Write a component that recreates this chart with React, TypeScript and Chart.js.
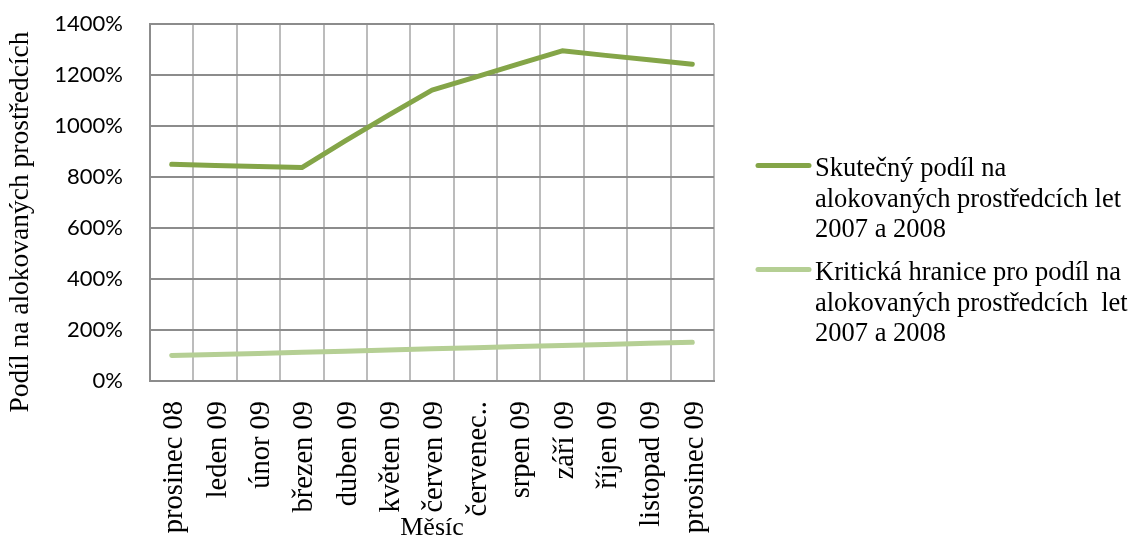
import { useEffect, useRef } from "react";
import { Chart, registerables } from "chart.js";

Chart.register(...registerables);

const months = [
  "prosinec 08",
  "leden 09",
  "únor 09",
  "březen 09",
  "duben 09",
  "květen 09",
  "červen 09",
  "červenec..",
  "srpen 09",
  "září 09",
  "říjen 09",
  "listopad 09",
  "prosinec 09",
];

const actualShare = [850, 845, 841, 837, 942, 1043, 1141, 1192, 1244, 1295, 1277, 1260, 1242];
const criticalLimit = [100, 104, 108, 113, 117, 122, 126, 130, 135, 139, 143, 148, 152];

const yMin = 0;
const yMax = 1400;
const yStep = 200;

const seriesNames = [
  "Skutečný podíl na alokovaných prostředcích let 2007 a 2008",
  "Kritická hranice pro podíl na alokovaných prostředcích  let 2007 a 2008",
];
const legendLines = [
  ["Skutečný podíl na", "alokovaných prostředcích let", "2007 a 2008"],
  ["Kritická hranice pro podíl na", "alokovaných prostředcích  let", "2007 a 2008"],
];
const seriesColors = ["#84a548", "#b5cf94"];

const yTitle = "Podíl na alokovaných prostředcích";
const xTitle = "Měsíc";

const SERIF = '"Liberation Serif", "Times New Roman", serif';
const SANS = 'Lato, "Liberation Sans", sans-serif';

const extrasPlugin = {
  id: "extras",
  afterDraw(chart: any) {
    const ctx = chart.ctx as CanvasRenderingContext2D;
    // y axis title
    ctx.save();
    ctx.translate(21, 222);
    ctx.rotate(-Math.PI / 2);
    ctx.font = `27.5px ${SERIF}`;
    ctx.fillStyle = "#000";
    ctx.textAlign = "center";
    ctx.textBaseline = "middle";
    ctx.fillText(yTitle, 0, 0);
    ctx.restore();

    // legend
    const baselines = [176, 280];
    chart.data.datasets.forEach((ds: any, i: number) => {
      const b = baselines[i];
      ctx.save();
      ctx.strokeStyle = ds.borderColor;
      ctx.lineWidth = 5;
      ctx.lineCap = "round";
      ctx.beginPath();
      ctx.moveTo(758, b - 10.5);
      ctx.lineTo(809, b - 10.5);
      ctx.stroke();
      ctx.font = `26.5px ${SERIF}`;
      ctx.fillStyle = "#000";
      ctx.textAlign = "left";
      ctx.textBaseline = "alphabetic";
      legendLines[i].forEach((line, j) => {
        ctx.fillText(line, 815, b + j * 30.5);
      });
      ctx.restore();
    });
  },
};

export default function App() {
  const ref = useRef<HTMLCanvasElement | null>(null);

  useEffect(() => {
    if (!ref.current) return;
    const chart = new Chart(ref.current, {
      type: "line",
      data: {
        labels: months,
        datasets: [
          {
            label: seriesNames[0],
            data: actualShare,
            borderColor: seriesColors[0],
            backgroundColor: seriesColors[0],
            borderWidth: 5,
            pointRadius: 0,
            tension: 0,
            borderCapStyle: "round",
            borderJoinStyle: "round",
          },
          {
            label: seriesNames[1],
            data: criticalLimit,
            borderColor: seriesColors[1],
            backgroundColor: seriesColors[1],
            borderWidth: 5,
            pointRadius: 0,
            tension: 0,
            borderCapStyle: "round",
            borderJoinStyle: "round",
          },
        ],
      },
      options: {
        responsive: false,
        animation: false,
        devicePixelRatio: 1,
        layout: { padding: { left: 0, top: 24, right: 419, bottom: 0 } },
        plugins: {
          legend: { display: false },
          tooltip: { enabled: false },
        },
        scales: {
          x: {
            offset: true,
            grid: { offset: true, color: "#bcbcbc", lineWidth: 2, drawTicks: false },
            border: { color: "#8c8c8c", width: 2 },
            ticks: {
              autoSkip: false,
              minRotation: 90,
              maxRotation: 90,
              padding: 20,
              labelOffset: 3,
              color: "#000",
              font: { family: SERIF, size: 28.5 },
            },
            title: {
              display: true,
              text: xTitle,
              color: "#000",
              font: { family: SERIF, size: 26, lineHeight: 1 },
              padding: 0,
            },
            afterFit: (scale: any) => {
              scale.height = 160;
              scale.paddingLeft = 0;
              scale.paddingRight = 0;
            },
          },
          y: {
            min: yMin,
            max: yMax,
            grid: { color: "#8c8c8c", lineWidth: 2, drawTicks: false },
            border: { color: "#8c8c8c", width: 2 },
            ticks: {
              stepSize: yStep,
              padding: 27,
              color: "#000",
              font: { family: SANS, size: 22 },
              callback: (v: any) => `${v}%`,
            },
            afterFit: (scale: any) => {
              scale.width = 150;
              scale.paddingTop = 0;
              scale.paddingBottom = 0;
            },
          },
        },
      },
      plugins: [extrasPlugin],
    });
    return () => chart.destroy();
  }, []);

  return (
    <div style={{ position: "absolute", left: 0, top: 0, width: 1133, height: 541, background: "#fff" }}>
      <canvas ref={ref} width={1133} height={541} style={{ display: "block" }} />
    </div>
  );
}
